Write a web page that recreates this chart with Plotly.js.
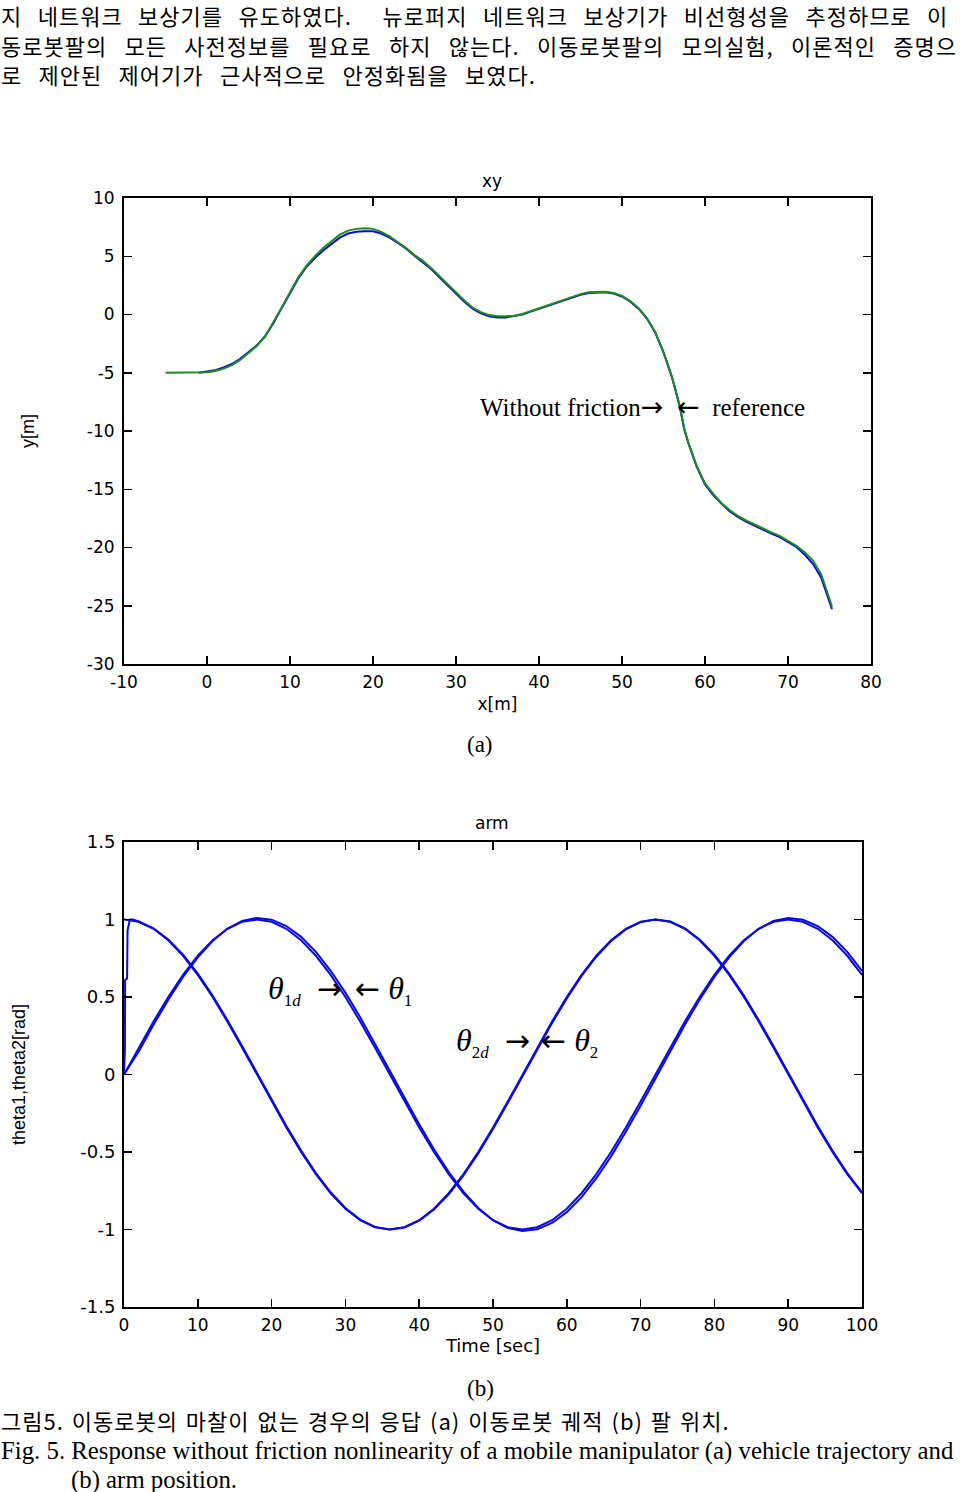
<!DOCTYPE html>
<html>
<head>
<meta charset="utf-8">
<script src="https://cdn.plot.ly/plotly-3.0.1.min.js"></script>
<style>
html,body{margin:0;padding:0;background:#ffffff;}
#chart{width:960px;height:1492px;}
</style>
</head>
<body>
<div id="chart"></div>
<script>
// ---------- (a) vehicle trajectory ----------
const trajRefX = [-5,-3,-1,0,1,2,3,4,5,6,7,8,9,10,11,12,13,14,15,16,17,18,19,20,21,22,23,24,25,26,27,28,29,30,31,32,33,34,35,36,37,38,39,40,41,42,43,44,45,46,47,48,49,50,51,52,53,54,55,55.5,56,56.5,57,57.5,58,59,60,61,62,63,64,65,66,67,68,69,70,71,72,73,74,74.5,75,75.3];
const trajRefY = [-5,-5,-5,-4.95,-4.85,-4.65,-4.35,-3.9,-3.3,-2.7,-1.9,-0.7,0.6,1.9,3.2,4.2,5.0,5.7,6.3,6.85,7.2,7.35,7.4,7.35,7.1,6.7,6.2,5.7,5.1,4.6,4.0,3.3,2.6,1.9,1.2,0.6,0.2,-0.05,-0.15,-0.15,-0.1,0.05,0.3,0.55,0.8,1.05,1.3,1.55,1.75,1.9,1.95,1.95,1.85,1.6,1.15,0.55,-0.3,-1.5,-3.2,-4.2,-5.3,-6.6,-8.0,-9.8,-11.0,-13.0,-14.5,-15.4,-16.2,-16.8,-17.3,-17.7,-18.05,-18.35,-18.7,-19.0,-19.4,-19.85,-20.4,-21.1,-22.3,-23.3,-24.4,-25.1];
const trajActX = [-1,0,1,2,3,4,5,6,7,8,9,10,11,12,13,14,15,16,17,18,19,20,21,22,23,24,25,26,27,28,29,30,31,32,33,34,35,36,37,38,39,40,41,42,43,44,45,46,47,48,49,50,51,52,53,54,55,55.5,56,56.5,57,57.5,58,59,60,61,62,63,64,65,66,67,68,69,70,71,72,73,74,74.5,75,75.3];
const trajActY = [-5.0,-4.92,-4.78,-4.55,-4.25,-3.8,-3.25,-2.65,-1.85,-0.75,0.55,1.85,3.1,4.1,4.85,5.5,6.05,6.6,6.95,7.1,7.15,7.15,6.95,6.6,6.15,5.65,5.05,4.5,3.9,3.2,2.5,1.8,1.1,0.5,0.1,-0.15,-0.25,-0.25,-0.15,0.0,0.25,0.5,0.75,1.0,1.25,1.5,1.7,1.85,1.9,1.9,1.8,1.55,1.1,0.5,-0.35,-1.55,-3.25,-4.25,-5.35,-6.65,-8.05,-9.85,-11.05,-13.05,-14.6,-15.5,-16.25,-16.9,-17.4,-17.8,-18.15,-18.45,-18.8,-19.1,-19.5,-19.95,-20.6,-21.4,-22.6,-23.6,-24.7,-25.3];

// ---------- (b) arm position ----------
const armTime = [0,2,4,6,8,10,12,14,16,18,20,22,24,26,28,30,32,34,36,38,40,42,44,46,48,50,52,54,56,58,60,62,64,66,68,70,72,74,76,78,80,82,84,86,88,90,92,94,96,98,100];
const theta1d = [1.000,0.985,0.940,0.866,0.766,0.643,0.500,0.342,0.174,0.000,-0.174,-0.342,-0.500,-0.643,-0.766,-0.866,-0.940,-0.985,-1.000,-0.985,-0.940,-0.866,-0.766,-0.643,-0.500,-0.342,-0.174,0.000,0.174,0.342,0.500,0.643,0.766,0.866,0.940,0.985,1.000,0.985,0.940,0.866,0.766,0.643,0.500,0.342,0.174,0.000,-0.174,-0.342,-0.500,-0.643,-0.766];
const theta2d = [0.000,0.174,0.342,0.500,0.643,0.766,0.866,0.940,0.985,1.000,0.985,0.940,0.866,0.766,0.643,0.500,0.342,0.174,0.000,-0.174,-0.342,-0.500,-0.643,-0.766,-0.866,-0.940,-0.985,-1.000,-0.985,-0.940,-0.866,-0.766,-0.643,-0.500,-0.342,-0.174,0.000,0.174,0.342,0.500,0.643,0.766,0.866,0.940,0.985,1.000,0.985,0.940,0.866,0.766,0.643];
const theta1Time = [0,0.12,0.15,0.42,0.48,0.8,1.2,2,4,6,8,10,12,14,16,18,20,22,24,26,28,30,32,34,36,38,40,42,44,46,48,50,52,54,56,58,60,62,64,66,68,70,72,74,76,78,80,82,84,86,88,90,92,94,96,98,100];
const theta1 = [0.02,0.15,0.61,0.62,0.93,1.00,1.00,0.987,0.943,0.871,0.773,0.651,0.509,0.352,0.184,0.010,-0.163,-0.332,-0.491,-0.636,-0.760,-0.861,-0.936,-0.983,-1.000,-0.987,-0.943,-0.871,-0.773,-0.651,-0.509,-0.352,-0.184,-0.010,0.163,0.332,0.491,0.636,0.760,0.861,0.936,0.983,1.000,0.987,0.943,0.871,0.773,0.651,0.509,0.352,0.184,0.010,-0.163,-0.332,-0.491,-0.636,-0.760];
const theta2 = [0.000,0.149,0.321,0.482,0.629,0.756,0.861,0.940,0.990,1.010,0.999,0.958,0.888,0.791,0.669,0.528,0.370,0.201,0.026,-0.149,-0.321,-0.482,-0.629,-0.756,-0.861,-0.940,-0.990,-1.010,-0.999,-0.958,-0.888,-0.791,-0.669,-0.528,-0.370,-0.201,-0.026,0.149,0.321,0.482,0.629,0.756,0.861,0.940,0.990,1.010,0.999,0.958,0.888,0.791,0.669];

// ---------- tick labels ----------
const xyXTickVals = [-10,0,10,20,30,40,50,60,70,80];
const xyXTickText = ["-10","0","10","20","30","40","50","60","70","80"];
const xyYTickVals = [-30,-25,-20,-15,-10,-5,0,5,10];
const xyYTickText = ["-30","-25","-20","-15","-10","-5","0","5","10"];
const armXTickVals = [0,10,20,30,40,50,60,70,80,90,100];
const armXTickText = ["0","10","20","30","40","50","60","70","80","90","100"];
const armYTickVals = [-1.5,-1,-0.5,0,0.5,1,1.5];
const armYTickText = ["-1.5","-1","-0.5","0","0.5","1","1.5"];

// ---------- texts ----------
const bodyLines = [
  "지 네트워크 보상기를 유도하였다.  뉴로퍼지 네트워크 보상기가 비선형성을 추정하므로 이",
  "동로봇팔의 모든 사전정보를 필요로 하지 않는다. 이동로봇팔의 모의실험, 이론적인 증명으",
  "로 제안된 제어기가 근사적으로 안정화됨을 보였다."
];
const captionKo = "그림5. 이동로봇의 마찰이 없는 경우의 응답 (a) 이동로봇 궤적 (b) 팔 위치.";
const captionEn1 = "Fig. 5. Response without friction nonlinearity of a mobile manipulator (a) vehicle trajectory and";
const captionEn2 = "(b) arm position.";

const W = 960, H = 1492;
const px = v => v / W;
const py = v => 1 - v / H;

const BLUE = "#0a0ae0";
const GREEN = "#1f8a1f";
const tickFont = {family: "DejaVu Sans", size: 17, color: "#000"};
const serif = "Liberation Serif";
const ko = "Noto Sans CJK KR";

function axisBase(extra) {
  return Object.assign({
    showgrid: false, zeroline: false, showline: true, linecolor: "#000", linewidth: 2,
    mirror: "allticks", ticks: "inside", ticklen: 8, tickwidth: 1.5, tickcolor: "#000",
    tickfont: tickFont, fixedrange: true
  }, extra);
}

const traces = [
  {x: trajActX, y: trajActY, xaxis: "x", yaxis: "y", mode: "lines", line: {color: BLUE, width: 2}, name: "Without friction"},
  {x: trajRefX, y: trajRefY, xaxis: "x", yaxis: "y", mode: "lines", line: {color: GREEN, width: 2}, name: "reference"},
  {x: armTime, y: theta1d, xaxis: "x2", yaxis: "y2", mode: "lines", line: {color: BLUE, width: 2}, name: "theta1d"},
  {x: theta1Time, y: theta1, xaxis: "x2", yaxis: "y2", mode: "lines", line: {color: BLUE, width: 2}, name: "theta1"},
  {x: armTime, y: theta2d, xaxis: "x2", yaxis: "y2", mode: "lines", line: {color: BLUE, width: 2}, name: "theta2d"},
  {x: armTime, y: theta2, xaxis: "x2", yaxis: "y2", mode: "lines", line: {color: BLUE, width: 2}, name: "theta2"}
];

function txt(text, x, y, font, xanchor) {
  return {text: text, x: px(x), y: py(y), xref: "paper", yref: "paper", showarrow: false,
          xanchor: xanchor || "left", yanchor: "middle", font: font, borderpad: 0};
}
function spaced(s, ws, ls) {
  return '<span style="word-spacing:' + ws + 'px;letter-spacing:' + (ls || 0) + 'px">' + s + '</span>';
}
const ARW = (s, sz) => '<span style="font-family:\'DejaVu Sans\';font-size:' + (sz || 28) + 'px">' + s + '</span>';
const SUB = s => '<sub><span style="font-size:17px">' + s + '</span></sub>';

const annotations = [
  txt(spaced(bodyLines[0], 9.5, 1), 0, 15.5, {family: ko, size: 22, color: "#000"}),
  txt(spaced(bodyLines[1], 11.4, 1), 0, 44.5, {family: ko, size: 22, color: "#000"}),
  txt(spaced(bodyLines[2], 10.4, 1), 0, 73.5, {family: ko, size: 22, color: "#000"}),
  txt("xy", 492, 181, {family: "DejaVu Sans", size: 17, color: "#000"}, "center"),
  txt("Without friction" + ARW("→", 27), 664, 406, {family: serif, size: 25, color: "#000"}, "right"),
  txt(ARW("←", 27) + "  reference", 676, 406, {family: serif, size: 25, color: "#000"}, "left"),
  txt("(a)", 480, 745, {family: serif, size: 23, color: "#000"}, "center"),
  txt("arm", 492, 823, {family: "DejaVu Sans", size: 17, color: "#000"}, "center"),
  txt("<i>θ</i>" + SUB("1<i>d</i>") + "  " + ARW("→", 30), 267, 990, {family: serif, size: 32, color: "#000"}),
  txt(ARW("←", 30) + " <i>θ</i>" + SUB("1"), 354, 990, {family: serif, size: 32, color: "#000"}),
  txt("<i>θ</i>" + SUB("2<i>d</i>") + "  " + ARW("→", 30), 455, 1042, {family: serif, size: 32, color: "#000"}),
  txt(ARW("←", 30) + " <i>θ</i>" + SUB("2"), 540, 1042, {family: serif, size: 32, color: "#000"}),
  txt("(b)", 480, 1388, {family: serif, size: 23, color: "#000"}, "center"),
  txt(spaced(captionKo, 2, 1), 0, 1420, {family: ko, size: 22, color: "#000"}),
  txt(captionEn1, 0, 1451, {family: serif, size: 24.8, color: "#000"}),
  txt(captionEn2, 70, 1480, {family: serif, size: 24.8, color: "#000"})
];

const layout = {
  width: W, height: H,
  margin: {l: 0, r: 0, t: 0, b: 0, pad: 0},
  paper_bgcolor: "#fff", plot_bgcolor: "#fff",
  showlegend: false,
  xaxis: axisBase({domain: [px(124), px(871)], range: [-10, 80], anchor: "y",
    tickmode: "array", tickvals: xyXTickVals, ticktext: xyXTickText, ticklabelstandoff: 2,
    title: {text: "x[m]", font: {family: "DejaVu Sans", size: 17, color: "#000"}, standoff: 7}}),
  yaxis: axisBase({domain: [py(664), py(198)], range: [-30, 10], anchor: "x",
    tickmode: "array", tickvals: xyYTickVals, ticktext: xyYTickText, ticklabelstandoff: 4,
    title: {text: "y[m]", font: {family: "Liberation Sans", size: 18, color: "#000"}, standoff: 48}}),
  xaxis2: axisBase({domain: [px(124), px(862)], range: [0, 100], anchor: "y2",
    tickmode: "array", tickvals: armXTickVals, ticktext: armXTickText, ticklabelstandoff: 2,
    title: {text: "Time [sec]", font: {family: "DejaVu Sans", size: 18, color: "#000"}, standoff: 4}}),
  yaxis2: axisBase({domain: [py(1307), py(842)], range: [-1.5, 1.5], anchor: "x2",
    tickmode: "array", tickvals: armYTickVals, ticktext: armYTickText, ticklabelstandoff: 3,
    tickfont: {family: "DejaVu Sans", size: 18, color: "#000"},
    title: {text: "theta1,theta2[rad]", font: {family: "Liberation Sans", size: 18, color: "#000"}, standoff: 50}}),
  annotations: annotations
};

Plotly.newPlot("chart", traces, layout, {staticPlot: true, displayModeBar: false});
</script>
</body>
</html>
